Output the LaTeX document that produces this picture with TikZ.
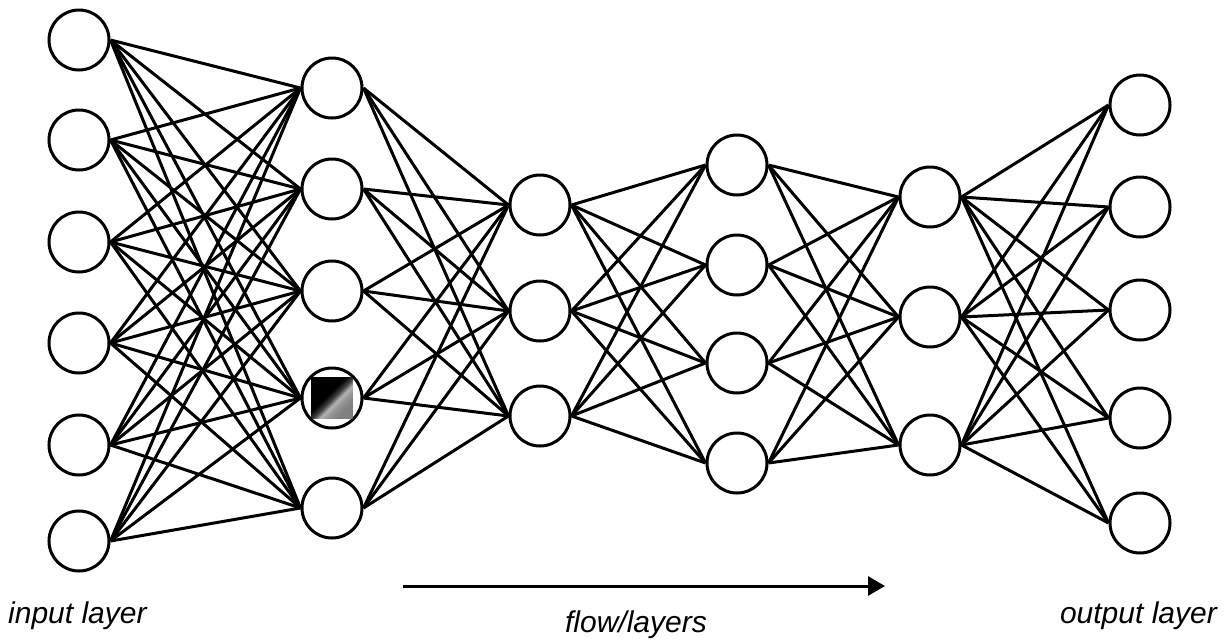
\documentclass[tikz,border=0pt]{standalone}
\usepackage{fontspec}
\setmainfont{Liberation Sans}
\usetikzlibrary{arrows.meta}
\pgfdeclareverticalshading{sqshade}{100bp}{color(0bp)=(black!50); color(28bp)=(black!50); color(37bp)=(black!42); color(43bp)=(black!30); color(49bp)=(black!75); color(56bp)=(black); color(100bp)=(black)}
\tikzset{
  neuron/.style={circle, draw=black, fill=white, line width=3pt, minimum size=60pt, inner sep=0pt},
  edge/.style={draw=black, line width=3pt},
  flowarrow/.style={draw=black, line width=3pt, -{Triangle[length=17pt,width=19pt]}},
  lbl/.style={font=\fontsize{30}{36}\selectfont\itshape, inner sep=0pt},
  sqbox/.style={rectangle, minimum size=41pt, inner sep=0pt, shading=sqshade, shading angle=45}
}
\begin{document}
\begin{tikzpicture}[x=1pt, y=-1pt]
\useasboundingbox[fill=white] (0,0) rectangle (1226,638);
% layers
\foreach \y [count=\i] in {40,140,242,343,445,541}
  \node[neuron] (a\i) at (79,\y) {};
\foreach \y [count=\i] in {88,189,291,398,508}
  \node[neuron] (b\i) at (332,\y) {};
\foreach \y [count=\i] in {205,311,416}
  \node[neuron] (c\i) at (540,\y) {};
\foreach \y [count=\i] in {165,265,363,463}
  \node[neuron] (d\i) at (737,\y) {};
\foreach \y [count=\i] in {197,317,445}
  \node[neuron] (e\i) at (930,\y) {};
\foreach \y [count=\i] in {105,207,310,418,523}
  \node[neuron] (f\i) at (1140,\y) {};
% special unit
\node[sqbox] (sq) at (b4) {};
% connections
\foreach \i in {1,...,6} \foreach \j in {1,...,5} \draw[edge] (a\i.east) -- (b\j.west);
\foreach \i in {1,...,5} \foreach \j in {1,...,3} \draw[edge] (b\i.east) -- (c\j.west);
\foreach \i in {1,...,3} \foreach \j in {1,...,4} \draw[edge] (c\i.east) -- (d\j.west);
\foreach \i in {1,...,4} \foreach \j in {1,...,3} \draw[edge] (d\i.east) -- (e\j.west);
\foreach \i in {1,...,3} \foreach \j in {1,...,5} \draw[edge] (e\i.east) -- (f\j.west);
% flow arrow
\coordinate (fs) at (403,586);
\coordinate (fe) at (885,586);
\draw[flowarrow] (fs) -- (fe);
% labels
\node[lbl, anchor=base west] (lin) at (8,623) {input layer};
\node[lbl, anchor=base] (lflow) at (636,632) {flow/layers};
\node[lbl, anchor=base east] (lout) at (1217,623) {output layer};
\end{tikzpicture}
\end{document}
